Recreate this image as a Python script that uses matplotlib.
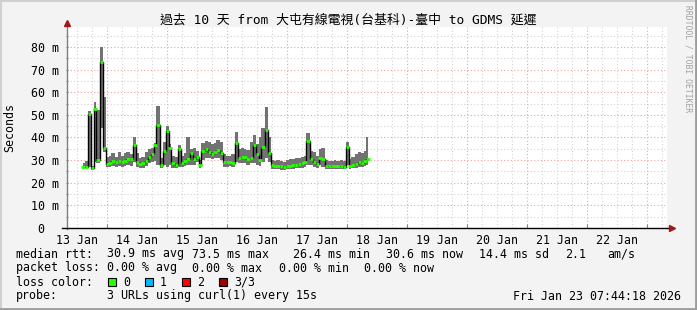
import numpy as np
import pandas as pd
import matplotlib
matplotlib.use("Agg")
import matplotlib.pyplot as plt
import matplotlib.dates as mdates
from matplotlib.patches import Rectangle
from matplotlib.lines import Line2D

W, H = 697, 310

title = "過去 10 天 from 大屯有線電視(台基科)-臺中 to GDMS 延遲"
start = pd.Timestamp("2026-01-13 08:00")
end = pd.Timestamp("2026-01-23 08:00")
first_sample = pd.Timestamp("2026-01-13 14:24")
step_minutes = 72

# median rtt and smoke range (ms), one value per sample
median_ms = [27.0, 26.8, 50.5, 26.4, 52.5, 30.0, 73.5, 35.4, 28.3, 28.8,
             29.5, 29.0, 29.7, 29.0, 29.5, 30.5, 30.3, 36.5, 29.0, 28.3,
             28.5, 29.8, 31.5, 32.5, 36.5, 45.5, 28.0, 34.0, 43.0, 35.5,
             28.5, 28.0, 35.0, 28.5, 29.5, 30.5, 33.0, 30.5, 31.5, 27.8,
             34.0, 35.0, 33.5, 32.8, 33.5, 34.5, 33.0, 29.0, 29.0, 29.3,
             28.8, 37.5, 31.0, 31.5, 31.2, 30.5, 31.0, 36.5, 32.5, 30.0,
             36.0, 43.3, 33.0, 27.8, 27.2, 27.5, 27.2, 27.0, 27.3, 27.5,
             27.8, 28.0, 28.2, 28.5, 29.0, 38.5, 30.5, 29.0, 28.2, 30.8,
             30.5, 27.5, 27.5, 27.3, 27.5, 27.3, 27.6, 27.0, 36.0, 27.5,
             28.0, 28.2, 29.0, 28.7, 29.5, 30.6]
low_ms = [26.5, 26.3, 27.0, 25.8, 29.0, 28.5, 44.0, 33.5, 27.0, 27.0,
          27.5, 27.0, 27.5, 27.0, 27.5, 28.0, 27.5, 29.0, 27.0, 26.5,
          26.5, 27.5, 28.5, 29.0, 29.5, 28.0, 26.5, 28.0, 27.0, 28.0,
          26.5, 26.5, 27.0, 27.0, 27.5, 28.0, 28.0, 28.0, 29.0, 26.5,
          30.0, 31.0, 31.0, 30.5, 31.0, 31.0, 30.0, 27.0, 27.0, 27.5,
          27.0, 29.0, 28.5, 28.5, 28.5, 28.0, 28.5, 28.5, 28.0, 27.5,
          29.0, 31.0, 29.0, 26.0, 26.0, 26.0, 25.8, 25.8, 26.0, 26.0,
          26.2, 26.5, 26.5, 26.5, 27.0, 28.0, 28.0, 27.0, 26.5, 28.0,
          27.0, 26.0, 26.0, 26.0, 26.0, 26.0, 26.0, 26.0, 28.0, 26.0,
          26.5, 26.5, 27.0, 26.8, 27.5, 28.0]
high_ms = [28.5, 29.8, 51.5, 27.5, 55.5, 52.0, 80.0, 58.0, 31.5, 32.0,
           33.0, 31.5, 33.5, 32.0, 33.0, 33.5, 32.5, 40.0, 33.0, 31.0,
           31.5, 33.5, 35.0, 35.5, 37.5, 54.0, 31.0, 38.0, 45.0, 37.0,
           32.0, 31.5, 36.5, 32.0, 33.0, 40.0, 35.0, 35.5, 34.0, 30.0,
           37.5, 38.5, 38.0, 37.0, 37.5, 39.0, 38.0, 32.5, 32.0, 32.0,
           32.5, 42.5, 35.0, 35.5, 35.0, 34.5, 38.0, 41.0, 37.0, 40.0,
           44.0, 53.5, 40.0, 30.0, 29.5, 30.0, 29.5, 29.0, 30.0, 30.5,
           30.5, 31.0, 31.0, 31.5, 32.0, 42.0, 34.0, 33.5, 32.0, 35.0,
           35.5, 30.0, 29.5, 29.5, 30.0, 29.5, 30.0, 29.5, 38.0, 30.5,
           31.5, 32.5, 33.5, 33.0, 34.0, 40.0]

day_labels = ["13 Jan", "14 Jan", "15 Jan", "16 Jan", "17 Jan",
              "18 Jan", "19 Jan", "20 Jan", "21 Jan", "22 Jan"]
y_ticks = [0, 10, 20, 30, 40, 50, 60, 70, 80]
y_labels = ["0  ", "10 m", "20 m", "30 m", "40 m", "50 m", "60 m", "70 m", "80 m"]

loss_colors = ["#26ff00", "#00b8ff", "#ff0000", "#a00000"]
loss_names = ["0", "1", "2", "3/3"]

plt.rcParams['font.family'] = ['DejaVu Sans Mono', 'Noto Sans CJK TC']
FS = 8.4


def px(x, y):
    return x / W, 1 - y / H


fig = plt.figure(figsize=(W / 100, H / 100), dpi=100)
fig.patch.set_facecolor("#f3f3f3")
ax = fig.add_axes([67 / W, 82 / H, 600 / W, 201 / H])
ax.set_facecolor("white")

times = pd.date_range(first_sample, periods=len(median_ms), freq=f"{step_minutes}min")
x = mdates.date2num(times.to_pydatetime())
half = step_minutes / 1440 / 2
x0 = mdates.date2num(start.to_pydatetime())
x1 = mdates.date2num(end.to_pydatetime())

# grid
for h in range(6, 240, 6):
    xv = x0 + h / 24 - 2 / 24
    major = (h - 2 + 24) % 24 == 0 if False else False
for k in range(0, 41):
    xv = x0 + (4 + 6 * k) / 24
    if xv >= x1:
        break
    is_major = (4 + 6 * k - 16) % 24 == 0
    ax.axvline(xv, color="#f2a0a0" if is_major else "#d4d4d4",
               lw=0.8, ls=(0, (1, 2)), zorder=0)
for v in range(5, 89, 5):
    ax.axhline(v, color="#f2a0a0" if v % 10 == 0 else "#d4d4d4",
               lw=0.8, ls=(0, (1, 2)), zorder=0)

# smoke, median steps, median in loss colour
ax.fill_between(x, low_ms, high_ms, step="mid", color="#727272", lw=0, zorder=2)
ax.step(x, median_ms, where="mid", color="black", lw=1, zorder=3)
ax.hlines(median_ms, x - half, x + half, color=loss_colors[0], lw=2, zorder=4)

ax.set_xlim(x0, x1)
ax.set_ylim(0, 88.8)
for s in ax.spines.values():
    s.set_visible(False)

noon = [x0 + (4 + 24 * k) / 24 for k in range(len(day_labels))]
ax.set_xticks(noon)
ax.set_xticklabels(day_labels, fontsize=FS)
ax.tick_params(axis="x", length=0, pad=4)
mid = [x0 + (16 + 24 * k) / 24 for k in range(10)]
ax.set_xticks(mid, minor=True)
ax.tick_params(axis="x", which="minor", length=3, direction="in", color="#e06060", width=0.8)

ax.set_yticks(y_ticks)
ax.set_yticklabels(y_labels, fontsize=FS)
ax.set_yticks(range(5, 89, 10), minor=True)
ax.tick_params(axis="y", which="both", length=2, direction="inout", color="#808080",
               width=0.8, pad=5)

# axes lines with arrows
fig.add_artist(Line2D([67 / W, 67 / W], [px(0, 229)[1], px(0, 24)[1]],
                      color="#808080", lw=1))
fig.add_artist(Line2D([62 / W, 671 / W], [px(0, 228)[1]] * 2, color="black", lw=1))
fig.add_artist(Line2D([67 / W], [px(0, 23)[1]], marker="^", ms=5, color="#a01818", lw=0))
fig.add_artist(Line2D([672 / W], [px(0, 228)[1]], marker=">", ms=5, color="#a01818", lw=0))

# titles
fig.text(*px(348, 20), title, ha="center", va="center", fontsize=9.3)
fig.text(*px(10, 128), "Seconds", rotation=90, ha="center", va="center", fontsize=FS)
fig.text(*px(688, 59), "RRDTOOL / TOBI OETIKER", rotation=270, ha="center",
         va="center", fontsize=5.8, color="#a0a0a0")

# legend
rows = [
    (254, [("median rtt:", 16), ("30.9 ms avg", 107), ("73.5 ms max", 192),
           ("26.4 ms min", 293), ("30.6 ms now", 386), ("14.4 ms sd", 479),
           ("2.1", 565), ("am/s", 607)]),
    (268, [("packet loss:", 16), ("0.00 % avg", 107), ("0.00 % max", 192),
           ("0.00 % min", 279), ("0.00 % now", 364)]),
    (282, [("loss color:", 16)]),
    (296, [("probe:", 16), ("3 URLs using curl(1) every 15s", 107)]),
]
for y, items in rows:
    for txt, xx in items:
        fig.text(*px(xx, y), txt, ha="left", va="center", fontsize=FS)
fig.text(*px(681, 296), "Fri Jan 23 07:44:18 2026", ha="right", va="center", fontsize=FS)

box_x = [108, 145, 182, 219]
for c, name, bx in zip(loss_colors, loss_names, box_x):
    fig.add_artist(Rectangle(px(bx, 286), 8 / W, 8 / H, facecolor=c,
                             edgecolor="black", lw=0.8, transform=fig.transFigure))
    fig.text(*px(bx + 15, 282), name, ha="left", va="center", fontsize=FS)

# 3d border
fig.add_artist(Line2D([0, 1], [1 - 1 / H] * 2, color="#d0d0d0", lw=1.5))
fig.add_artist(Line2D([1 / W] * 2, [0, 1], color="#d0d0d0", lw=1.5))
fig.add_artist(Line2D([0, 1], [1 / H] * 2, color="#9c9c9c", lw=2))
fig.add_artist(Line2D([1 - 1 / W] * 2, [0, 1], color="#9c9c9c", lw=2))

fig.savefig("out.png", dpi=100, facecolor=fig.get_facecolor())
